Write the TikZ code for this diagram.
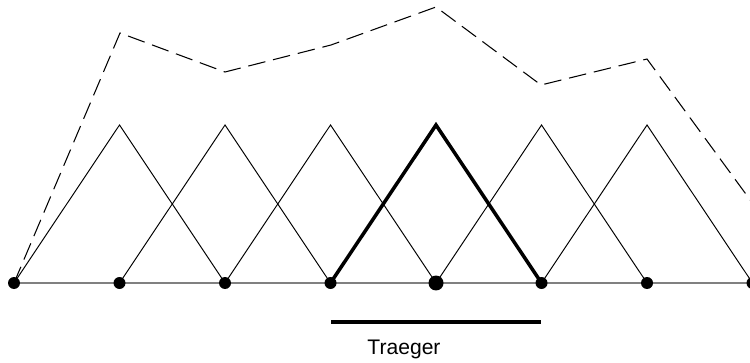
\documentclass[tikz,border=0pt]{standalone}
\usepackage{fontspec}
\setmainfont{Liberation Sans}
\usetikzlibrary{positioning}
\definecolor{basecolor}{HTML}{808080}

\begin{document}
\begin{tikzpicture}[
    x=0.02cm, y=0.02cm,
    every node/.style={font=\fontsize{12}{14}\selectfont},
    hat/.style={line width=0.55pt},
    mainhat/.style={line width=2pt},
    envelope/.style={line width=0.6pt, dash pattern=on 10pt off 4.5pt},
]
\def\dx{105.5}
\useasboundingbox (0,0) rectangle (750,362);
\clip (0,0) rectangle (750,362);

% the grid points and the hat peaks
\foreach \i in {0,...,7}{
    \coordinate (n\i) at ({14+\i*\dx}, 79);}
\foreach \i in {1,...,6}{
    \coordinate (p\i) at ({14+\i*\dx}, 237);}

% the base line
\draw[basecolor, line width=0.9pt] (n0) -- (n7);

% the hats, one per inner point
\foreach \i in {1,2,3,5,6}{
    \pgfmathtruncatemacro\l{\i-1}
    \pgfmathtruncatemacro\r{\i+1}
    \draw[hat] (n\l) -- (p\i) -- (n\r);}
\draw[mainhat, line join=miter] (n3) -- (p4) -- (n5);

% the sum of the weighted hats
\coordinate (e1) at (120, 329);
\coordinate (e2) at (225, 290);
\coordinate (e3) at (331, 317);
\coordinate (e4) at (436, 355);
\coordinate (e5) at (541, 277);
\coordinate (e6) at (647, 303);
\coordinate (e7) at (800, 94);
\draw[envelope] (n0) -- (e1) -- (e2) -- (e3) -- (e4) -- (e5) -- (e6) -- (e7);

% the knots on top
\foreach \i in {0,1,2,3,5,6,7}{
    \fill (n\i) circle (0.12cm);}
\fill (n4) circle (0.15cm);

% the support of the middle hat
\coordinate (s0) at (331, 40);
\coordinate (s1) at (541, 40);
\draw[line width=2.2pt] (s0) -- (s1);
\node (traeger) at (404, 13) {Traeger};
\end{tikzpicture}
\end{document}
